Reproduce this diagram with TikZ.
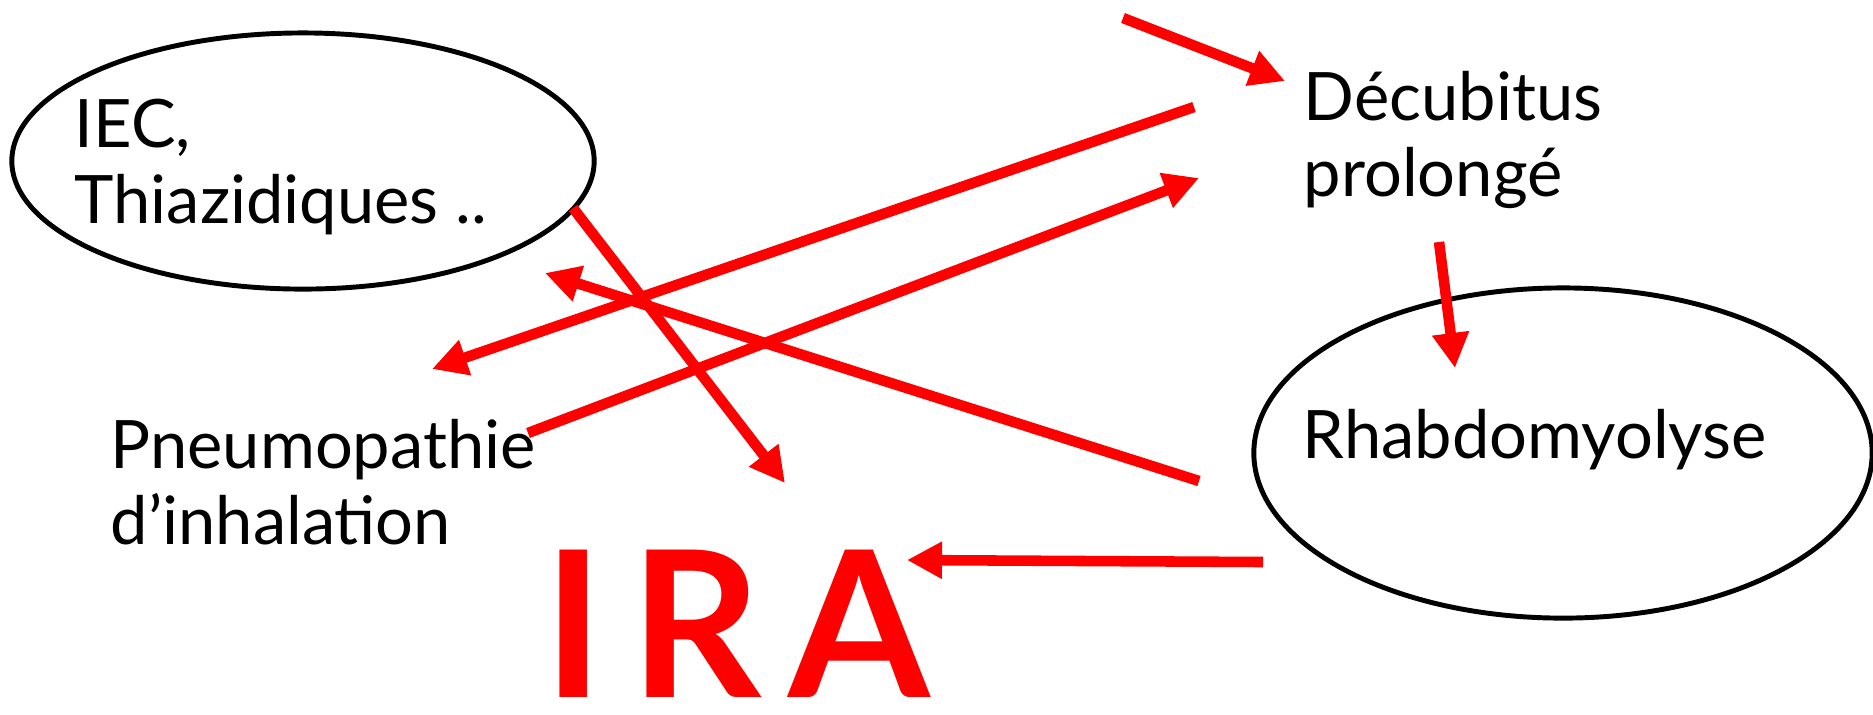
\documentclass[tikz,border=0pt]{standalone}
\usepackage{fontspec}
\setmainfont{Lato}
\usetikzlibrary{arrows.meta,shapes.geometric}

\begin{document}
\begin{tikzpicture}[x=0.01cm,y=-0.01cm,
  every node/.style={font=\fontsize{19}{21.5}\selectfont},
  oval/.style={draw,ellipse,line width=1.4pt,inner sep=0pt},
  lbl/.style={inner sep=0pt,align=left,anchor=west},
  arr/.style={->,draw=red,line width=3pt},
  >={Triangle[length=3.5mm,width=3.5mm]}]
  \useasboundingbox (0,0) rectangle (1873,714);
  \node[oval,minimum width=5.82cm,minimum height=2.56cm] (iec) at (303,161) {};
  \node[lbl] (iec-txt) at (74,167) {IEC,\\Thiazidiques ..};
  \node[oval,minimum width=6.18cm,minimum height=3.3cm] (rhab) at (1563,453) {};
  \node[lbl,anchor=base west] (rhab-txt) at (1302,458) {Rhabdomyolyse};
  \node[lbl] (dec) at (1303,140) {Décubitus\\prolongé};
  \node[lbl] (pneu) at (110,482) {Pneumopathie\\d’inhalation};
  \node[lbl,anchor=base west,text=red,font=\fontsize{58}{58}\selectfont\bfseries] (ira) at (543,697) {I\kern7.5pt R\kern7.5pt A};
  \coordinate (from-top) at (1123,18);  \coordinate (dec-in) at (1285,81);
  \coordinate (dec-a) at (1194,107);    \coordinate (pneu-in) at (432,369);
  \coordinate (pneu-a) at (528,433);    \coordinate (dec-b) at (1199,178);
  \coordinate (iec-a) at (573,208);     \coordinate (ira-in) at (785,483);
  \coordinate (rhab-a) at (1199,481);   \coordinate (iec-in) at (545,273);
  \coordinate (dec-c) at (1439,242);    \coordinate (rhab-in) at (1455,368);
  \coordinate (rhab-b) at (1263,562);   \coordinate (ira-b) at (907,560);
  \draw[arr] (from-top) -- (dec-in);
  \draw[arr] (dec-a) -- (pneu-in);
  \draw[arr] (pneu-a) -- (dec-b);
  \draw[arr] (iec-a) -- (ira-in);
  \draw[arr] (rhab-a) -- (iec-in);
  \draw[arr] (dec-c) -- (rhab-in);
  \draw[arr] (rhab-b) -- (ira-b);
\end{tikzpicture}
\end{document}
